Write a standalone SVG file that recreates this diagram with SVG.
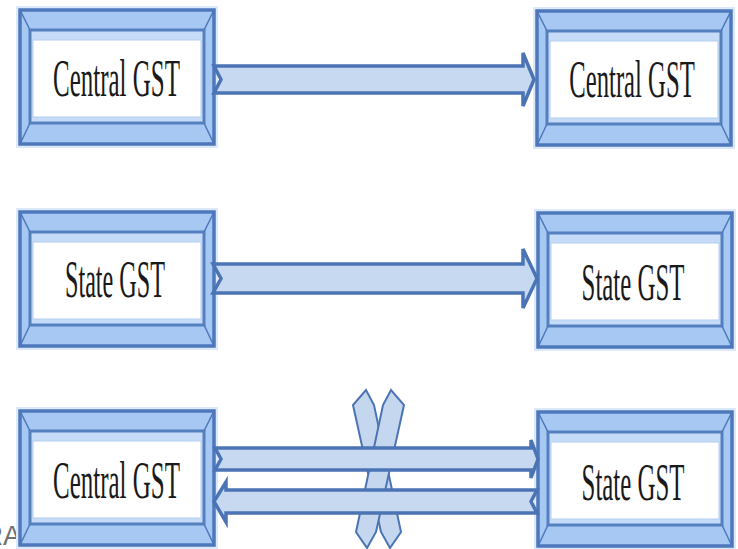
<svg xmlns="http://www.w3.org/2000/svg" width="738" height="549" viewBox="0 0 738 549">
<defs>
<style>
.halo{fill:none;stroke:#dbe9fb;stroke-width:8}
.outer{fill:#a7c8f3;stroke:#4d78bb;stroke-width:3.5}
.band{fill:#c6dbf7;stroke:#5580c0;stroke-width:3}
.face{fill:#ffffff;stroke:#b3cdef;stroke-width:1}
.bev{stroke:#4d78bb;stroke-width:1.5}
.lbl{font-family:"Liberation Serif","DejaVu Serif",serif;font-size:52px;fill:#1a1a1a;text-anchor:middle}
.arrow{fill:#c7d9f1;stroke:#4b74b5;stroke-width:3.5;stroke-linejoin:miter}
.cross{fill:#c5d7ef;stroke:#4b74b5;stroke-width:2;stroke-linejoin:miter}
.wm{font-family:"Liberation Sans","DejaVu Sans",sans-serif;font-size:27px;fill:#707070;text-anchor:end}
</style>
<g id="frame">
<rect class="halo" x="0" y="0" width="194" height="134"/>
<rect class="outer" x="0" y="0" width="194" height="134"/>
<rect class="band" x="10" y="20" width="174" height="93"/>
<rect class="face" x="13" y="30" width="168" height="77"/>
<line class="bev" x1="0" y1="0" x2="10" y2="20"/>
<line class="bev" x1="194" y1="0" x2="184" y2="20"/>
<line class="bev" x1="0" y1="134" x2="10" y2="113"/>
<line class="bev" x1="194" y1="134" x2="184" y2="113"/>
</g>
</defs>
<rect width="738" height="549" fill="#ffffff"/>
<text class="wm" x="21" y="545">RA</text>
<g id="n1">
<use href="#frame" x="20" y="10"/>
<text class="lbl" transform="translate(116.5,96) scale(0.48,1)" x="0" y="0">Central GST</text>
</g>
<g id="n2">
<use href="#frame" x="537" y="11"/>
<text class="lbl" transform="translate(632,97) scale(0.475,1)" x="0" y="0">Central GST</text>
</g>
<g id="n3">
<use href="#frame" x="20" y="212"/>
<text class="lbl" transform="translate(115,297) scale(0.465,1)" x="0" y="0">State GST</text>
</g>
<g id="n4">
<use href="#frame" x="538" y="213"/>
<text class="lbl" transform="translate(633,300) scale(0.478,1)" x="0" y="0">State GST</text>
</g>
<g id="n5">
<use href="#frame" x="20" y="411"/>
<text class="lbl" transform="translate(116.5,498) scale(0.48,1)" x="0" y="0">Central GST</text>
</g>
<g id="n6">
<use href="#frame" x="538" y="412"/>
<text class="lbl" transform="translate(633,500) scale(0.478,1)" x="0" y="0">State GST</text>
</g>
<g id="blocked-mark">
<polygon class="cross" points="366,390 374,405 401,532 390,548 381,532 353,405"/>
<polygon class="cross" points="391,390 383,405 356,532 367,548 376,532 404,405"/>
</g>
<g id="connectors">
<polygon class="arrow" points="214,66 523,66 523,53 534,79.5 523,106 523,93 214,93 221,79.5"/>
<polygon class="arrow" points="213,264 523,264 523,249 537,278.5 523,308 523,293 213,293 221,278.5"/>
<polygon class="arrow" points="215,448 531,448 531,440 538,459 531,478 531,470 215,470 221,459"/>
<polygon class="arrow" points="537,490 226,490 226,482 214,501.5 226,522 226,513 537,513 531,501.5"/>
</g>
</svg>
